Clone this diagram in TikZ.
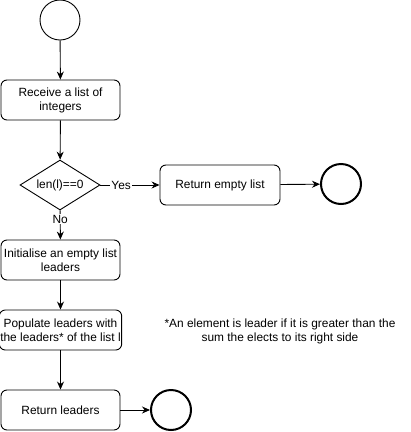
\documentclass[tikz,border=0pt]{standalone}
\usepackage{fontspec}
\setmainfont{Liberation Sans}
\usetikzlibrary{arrows.meta,shapes.geometric}
\begin{document}
\begin{tikzpicture}[x=1pt,y=-1pt,
  every node/.style={font=\fontsize{11.9}{14}\selectfont},
  procbox/.style={draw,rounded corners=6pt,minimum width=119pt,minimum height=40pt,align=center,line width=0.9pt,inner sep=1pt},
  startc/.style={draw,circle,minimum size=40pt,inner sep=0pt,line width=0.9pt},
  endc/.style={draw,circle,minimum size=40pt,inner sep=0pt,line width=2pt},
  decis/.style={draw,diamond,aspect=1.6,minimum width=80pt,minimum height=50pt,inner sep=0pt,line width=0.9pt},
  flow/.style={-{Stealth[length=8pt,width=7pt]},line width=0.9pt},
  lbl/.style={fill=white,inner sep=1pt}]
\useasboundingbox (0,0) rectangle (411,432);
\node[startc] (start) at (60,20) {};
\node[procbox] (recv) at (60.5,100) {Receive a list of\\integers};
\node[decis] (dec) at (60,185) {len(l)==0};
\node[procbox,minimum width=120pt] (retempty) at (220,185) {Return empty list};
\node[endc] (end1) at (341,184) {};
\node[procbox] (init) at (60.5,260) {Initialise an empty list\\leaders};
\node[procbox] (pop) at (60.5,330) {Populate leaders with\\the leaders* of the list l};
\node[procbox] (retl) at (60.5,410) {Return leaders};
\node[endc] (end2) at (171,410) {};
\node[align=center] (note) at (280,331) {*An element is leader if it is greater than the\\sum the elects to its right side};
\draw[flow] (start) -- (recv);
\draw[flow] (recv) -- (dec);
\draw[flow] (dec) -- node[lbl,pos=0.35] {Yes} (retempty);
\draw[flow] (dec) -- node[lbl,pos=0.3] {No} (init);
\draw[flow] (retempty) -- (end1);
\draw[flow] (init) -- (pop);
\draw[flow] (pop) -- (retl);
\draw[flow] (retl) -- (end2);
\end{tikzpicture}
\end{document}
